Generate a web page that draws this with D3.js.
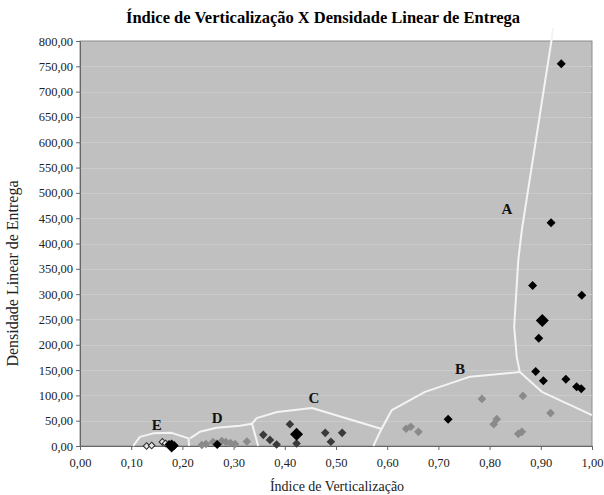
<!DOCTYPE html>
<html>
<head>
<meta charset="utf-8">
<script src="https://cdn.jsdelivr.net/npm/d3@7"></script>
<style>
  body { margin: 0; background: #fff; }
  svg { font-family: "Liberation Serif", "DejaVu Serif", serif; }
</style>
</head>
<body>
<div id="chart"></div>
<script>
// values (x = índice, y = densidade)
const blackPts = [[0.94, 755], [0.92, 441], [0.884, 317], [0.98, 298], [0.896, 213], [0.89, 147],
  [0.905, 129], [0.949, 132], [0.97, 117], [0.979, 113], [0.719, 53], [0.268, 3], [0.174, 3], [0.184, 1]];
const bigBlackPts = [[0.903, 248], [0.423, 23], [0.179, 0]];
const darkPts = [[0.41, 43], [0.358, 22], [0.371, 12], [0.384, 3], [0.423, 5], [0.479, 26], [0.512, 26], [0.49, 8.5]];
const grayPts = [[0.785, 93], [0.865, 99], [0.808, 43], [0.814, 53], [0.856, 24], [0.863, 28], [0.637, 34],
  [0.646, 38], [0.661, 28], [0.919, 65], [0.238, 2], [0.246, 4], [0.26, 8], [0.267, 5], [0.277, 10],
  [0.285, 8], [0.294, 6], [0.303, 4], [0.326, 9]];
const hollowPts = [[0.13, 0], [0.14, 1], [0.161, 8], [0.167, 5]];

// hand-drawn region boundaries
const boundaries = [
  [[0.924, 826], [0.921, 802], [0.863, 427], [0.856, 367], [0.848, 236], [0.853, 176], [0.859, 146], [0.902, 107], [1.0, 61]],
  [[0.573, 0], [0.586, 28], [0.609, 71], [0.674, 107], [0.762, 137], [0.859, 146]],
  [[0.336, 44], [0.345, 55], [0.385, 67], [0.453, 75], [0.588, 34]],
  [[0.336, 44], [0.348, 0]],
  [[0.215, 15], [0.234, 28], [0.267, 36], [0.3125, 40], [0.336, 44]],
  [[0.104, 0], [0.117, 18], [0.143, 25], [0.179, 26], [0.212, 15], [0.213, 0]]
];
const regionLabels = ['A', 'B', 'C', 'D', 'E'];
const regionPos = [[0.834, 468], [0.742, 152], [0.457, 95], [0.268, 55], [0.150, 41]];

const xTicks = d3.range(0, 1.0001, 0.1);
const yTicks = d3.range(0, 801, 50);

const W = 604, H = 495;
const margin = { top: 41, right: 12, bottom: 49, left: 80 };
const w = W - margin.left - margin.right;
const h = H - margin.top - margin.bottom;

const svg = d3.select('#chart').append('svg').attr('width', W).attr('height', H);

svg.append('text')
  .attr('x', 323).attr('y', 23)
  .attr('text-anchor', 'middle')
  .style('font-size', '16.5px').style('font-weight', 'bold')
  .text('Índice de Verticalização X Densidade Linear de Entrega');

const g = svg.append('g').attr('transform', `translate(${margin.left},${margin.top})`);

const x = d3.scaleLinear().domain([0, 1]).range([0, w]);
const y = d3.scaleLinear().domain([0, 800]).range([h, 0]);
const fmt = v => d3.format('.2f')(v).replace('.', ',');

g.append('rect').attr('width', w).attr('height', h)
  .attr('fill', '#c0c0c0').attr('stroke', '#8c8c8c').attr('stroke-width', 1);

g.selectAll('.grid').data(yTicks.slice(1, -1)).enter().append('line')
  .attr('x1', 0).attr('x2', w)
  .attr('y1', d => Math.round(y(d)) + 0.5).attr('y2', d => Math.round(y(d)) + 0.5)
  .attr('stroke', '#cbcbcb').attr('stroke-width', 1);

const yAxis = g.append('g')
  .call(d3.axisLeft(y).tickValues(yTicks).tickFormat(fmt).tickSize(4).tickPadding(3));
const xAxis = g.append('g').attr('transform', `translate(0,${h})`)
  .call(d3.axisBottom(x).tickValues(xTicks).tickFormat(fmt).tickSize(4).tickPadding(8));
[yAxis, xAxis].forEach(a => {
  a.attr('font-family', '"Liberation Serif", serif').attr('font-size', 12.5);
  a.select('.domain').attr('stroke', '#666');
  a.selectAll('.tick line').attr('stroke', '#666');
  a.selectAll('text').attr('fill', '#222');
});

svg.append('text')
  .attr('transform', `translate(18,${margin.top + h / 2 + 30}) rotate(-90)`)
  .attr('text-anchor', 'middle')
  .style('font-size', '16px').attr('fill', '#222')
  .text('Densidade Linear de Entrega');
svg.append('text')
  .attr('x', 337).attr('y', 491)
  .attr('text-anchor', 'middle')
  .style('font-size', '14px').attr('fill', '#222')
  .text('Índice de Verticalização');

// boundaries
const line = d3.line().x(d => x(d[0])).y(d => y(d[1]));
g.selectAll('.bound').data(boundaries).enter().append('path')
  .attr('d', line).attr('fill', 'none')
  .attr('stroke', '#f4f4f4').attr('stroke-width', 2).attr('stroke-linejoin', 'round');

g.selectAll('.rlab').data(regionLabels).enter().append('text')
  .attr('x', (d, i) => x(regionPos[i][0])).attr('y', (d, i) => y(regionPos[i][1]))
  .attr('text-anchor', 'middle').attr('dy', '0.35em')
  .style('font-size', '15px').style('font-weight', 'bold').attr('fill', '#111')
  .text(d => d);

// diamond markers
const diamond = r => `M0,${-r}L${r},0L0,${r}L${-r},0Z`;
function drawPts(data, r, fill, stroke, sw) {
  g.append('g').selectAll('path').data(data).enter().append('path')
    .attr('transform', d => `translate(${x(d[0])},${y(d[1])})`)
    .attr('d', diamond(r))
    .attr('fill', fill).attr('stroke', stroke).attr('stroke-width', sw);
}
drawPts(grayPts, 4.3, '#8a8a8a', 'none', 0);
drawPts(darkPts, 4.3, '#3a3a3a', 'none', 0);
drawPts(hollowPts, 3.3, '#e6e6e6', '#333', 1.1);
drawPts(blackPts, 4.5, '#000', 'none', 0);
drawPts(bigBlackPts, 6.5, '#000', 'none', 0);
</script>
</body>
</html>
